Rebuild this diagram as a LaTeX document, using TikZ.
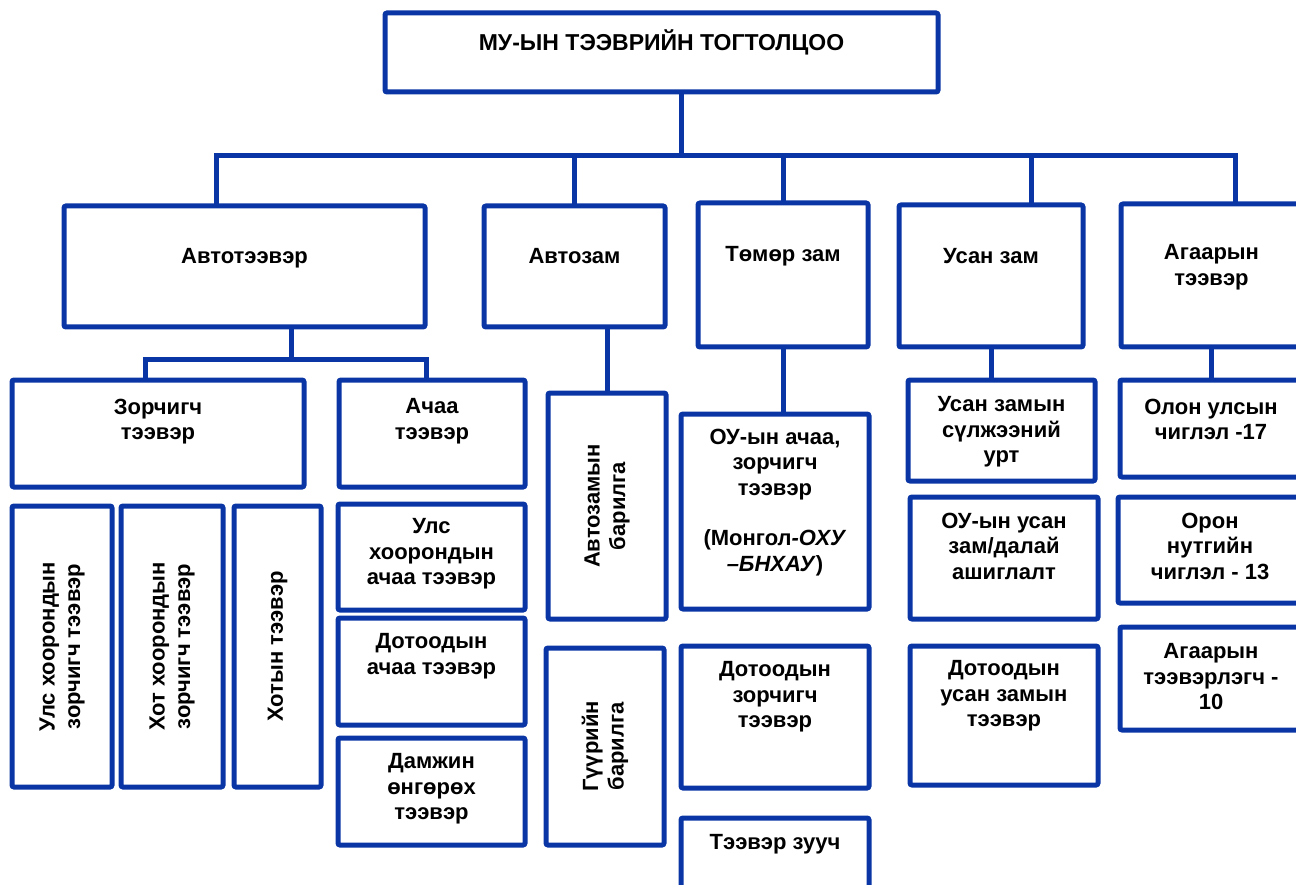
\documentclass[tikz,border=0pt]{standalone}
\usepackage{fontspec}
\setmainfont{Liberation Sans}
\usetikzlibrary{positioning}
\definecolor{bleu}{RGB}{10,54,165}
\tikzset{
	cadre/.style={draw=bleu, line width=5pt, rounded corners=2pt, rectangle, inner sep=0pt},
	texte/.style={font=\fontsize{22}{25.5}\selectfont\bfseries, align=center, inner sep=0pt},
	lien/.style={draw=bleu, line width=5pt, line cap=rect}
}
\begin{document}
\begin{tikzpicture}[x=1pt, y=-1pt]
		\useasboundingbox (0,0) rectangle (1296,885);
		\clip (0,0) rectangle (1296,885);
		\fill[white] (0,0) rectangle (1296,885);
		
		% Création des cadres
		\node[cadre, minimum width=553, minimum height=79] (titre) at (661.5,52.5) {};
		\node[cadre, minimum width=361, minimum height=121] (autotr) at (244.5,266.5) {};
		\node[cadre, minimum width=181, minimum height=121] (autozam) at (574.5,266.5) {};
		\node[cadre, minimum width=170, minimum height=144] (tomor) at (783,275) {};
		\node[cadre, minimum width=184, minimum height=142] (usan) at (991,276) {};
		\node[cadre, minimum width=181, minimum height=143] (agaar) at (1211.5,275.5) {};
		
		\node[cadre, minimum width=292, minimum height=107] (zorch) at (158,433.5) {};
		\node[cadre, minimum width=186, minimum height=107] (achaa) at (432,433.5) {};
		\node[cadre, minimum width=100, minimum height=281] (ulsz) at (62,646.5) {};
		\node[cadre, minimum width=102, minimum height=281] (hotz) at (172,646.5) {};
		\node[cadre, minimum width=87, minimum height=281] (hotyn) at (277.5,646.5) {};
		\node[cadre, minimum width=187, minimum height=106] (ulsa) at (431.5,557) {};
		\node[cadre, minimum width=187, minimum height=107] (dota) at (431.5,671.5) {};
		\node[cadre, minimum width=187, minimum height=107] (damjin) at (431.5,791.5) {};
		
		\node[cadre, minimum width=118, minimum height=226] (barilga) at (607,506) {};
		\node[cadre, minimum width=118, minimum height=197] (guur) at (605,746.5) {};
		
		\node[cadre, minimum width=188, minimum height=195] (oua) at (775,511.5) {};
		\node[cadre, minimum width=188, minimum height=142] (dotz) at (775,717) {};
		\node[cadre, minimum width=188, minimum height=82] (zuuch) at (775,859) {};
		
		\node[cadre, minimum width=187, minimum height=101] (sulj) at (1001.5,430.5) {};
		\node[cadre, minimum width=188, minimum height=122] (ouusan) at (1004,558) {};
		\node[cadre, minimum width=188, minimum height=139] (dotusan) at (1004,715.5) {};
		
		\node[cadre, minimum width=182, minimum height=97] (olon) at (1211,428.5) {};
		\node[cadre, minimum width=184, minimum height=106] (oron) at (1210,550) {};
		\node[cadre, minimum width=182, minimum height=103] (agtee) at (1211,678.5) {};
		
		% Textes
		\node[texte, font=\fontsize{23}{26}\selectfont\bfseries, below=19pt of titre.north] (titre-t) {МУ-ЫН ТЭЭВРИЙН ТОГТОЛЦОО};
		\node[texte, below=45pt of autotr.north] (autotr-t) {Автотээвэр};
		\node[texte, below=45pt of autozam.north] (autozam-t) {Автозам};
		\node[texte, below=46pt of tomor.north] (tomor-t) {Төмөр зам};
		\node[texte, below=46pt of usan.north] (usan-t) {Усан зам};
		\node[texte, below=43pt of agaar.north] (agaar-t) {Агаарын\\тээвэр};
		
		\node[texte, below=21pt of zorch.north] (zorch-t) {Зорчигч\\тээвэр};
		\node[texte, below=21pt of achaa.north] (achaa-t) {Ачаа\\тээвэр};
		\node[texte, rotate=90] (ulsz-t) at (ulsz) {Улс хоорондын\\зорчигч тээвэр};
		\node[texte, rotate=90] (hotz-t) at (hotz) {Хот хоорондын\\зорчигч тээвэр};
		\node[texte, rotate=90] (hotyn-t) at (hotyn) {Хотын тээвэр};
		\node[texte, below=17pt of ulsa.north] (ulsa-t) {Улс\\хоорондын\\ачаа тээвэр};
		\node[texte, below=18pt of dota.north] (dota-t) {Дотоодын\\ачаа тээвэр};
		\node[texte, below=18pt of damjin.north] (damjin-t) {Дамжин\\өнгөрөх\\тээвэр};
		
		\node[texte, rotate=90] (barilga-t) at (barilga) {Автозамын\\барилга};
		\node[texte, rotate=90] (guur-t) at (guur) {Гүүрийн\\барилга};
		
		\node[texte, below=17pt of oua.north] (oua-t) {ОУ-ын ачаа,\\зорчигч\\тээвэр\\[25pt](Монгол\textit{-ОХУ}\\\textit{–БНХАУ})};
		\node[texte, below=18pt of dotz.north] (dotz-t) {Дотоодын\\зорчигч\\тээвэр};
		\node[texte, below=19pt of zuuch.north] (zuuch-t) {Тээвэр зууч};
		
		\node[texte, below=19pt of sulj.north] (sulj-t) {Усан замын\\сүлжээний\\урт};
		\node[texte, below=18pt of ouusan.north] (ouusan-t) {ОУ-ын усан\\зам/далай\\ашиглалт};
		\node[texte, below=17pt of dotusan.north] (dotusan-t) {Дотоодын\\усан замын\\тээвэр};
		
		\node[texte, below=21pt of olon.north] (olon-t) {Олон улсын\\чиглэл -17};
		\node[texte, below=18pt of oron.north] (oron-t) {Орон\\нутгийн\\чиглэл - 13};
		\node[texte, below=19pt of agtee.north] (agtee-t) {Агаарын\\тээвэрлэгч -\\10};
		
		% Points de jonction
		\coordinate (b0) at (681,156);
		\coordinate (b1) at (216,156);
		\coordinate (b4) at (1031,156);
		\coordinate (b5) at (1235,156);
		\coordinate (s0) at (291,359);
		\coordinate (s1) at (145,359);
		\coordinate (s2) at (426,359);
		
		% Liens
		\draw[lien] (titre.south -| b0) -- (b0);
		\draw[lien] (autotr.north -| b1) -- (b1) -- (b5) -- (agaar.north -| b5);
		\draw[lien] (autozam.north) -- (autozam.north |- b1);
		\draw[lien] (tomor.north) -- (tomor.north |- b1);
		\draw[lien] (usan.north -| b4) -- (b4);
		
		\draw[lien] (autotr.south -| s0) -- (s0);
		\draw[lien] (zorch.north -| s1) -- (s1) -- (s2) -- (achaa.north -| s2);
		\draw[lien] (barilga.north) -- (barilga.north |- autozam.south);
		\draw[lien] (tomor.south) -- (tomor.south |- oua.north);
		\draw[lien] (usan.south) -- (usan.south |- sulj.north);
		\draw[lien] (agaar.south) -- (agaar.south |- olon.north);
	\end{tikzpicture}
\end{document}
